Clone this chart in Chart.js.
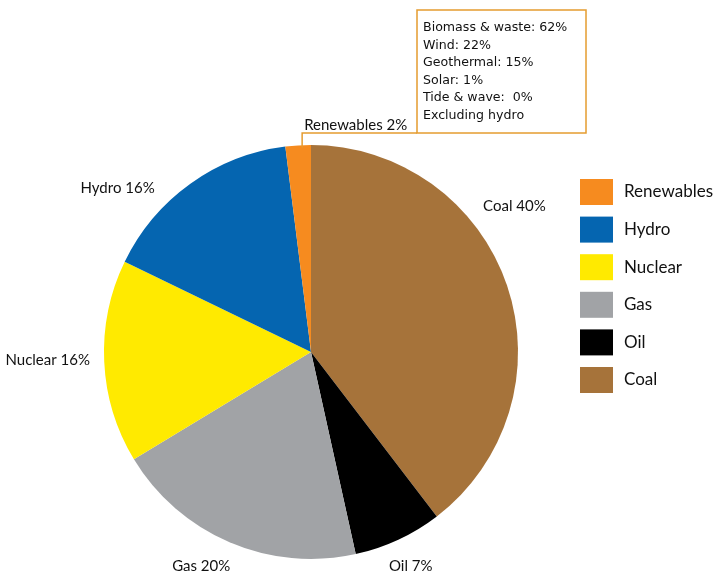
<!DOCTYPE html>
<html>
<head>
<meta charset="utf-8">
<script src="https://cdn.jsdelivr.net/npm/chart.js@4/dist/chart.umd.min.js"></script>
<style>
  body { margin: 0; background: #fff; }
</style>
</head>
<body>
<canvas id="myChart" width="717" height="576"></canvas>
<script>
// clockwise from 12 o'clock
const sources = ["Coal", "Oil", "Gas", "Nuclear", "Hydro", "Renewables"];
const shares = [40, 7, 20, 16, 16, 2];
const colors = ["#a6733a", "#000000", "#a1a3a6", "#ffea00", "#0565b0", "#f68b1f"];
const renewableMix = ["Biomass & waste: 62%", "Wind: 22%", "Geothermal: 15%", "Solar: 1%", "Tide & wave:  0%", "Excluding hydro"];

// outside labels + leader box + legend
const decorations = {
    id: "decorations",
    afterDraw(chart, args, opts) {
        const ctx = chart.ctx;
        const arcs = chart.getDatasetMeta(0).data;
        ctx.save();
        ctx.fillStyle = "#111";
        ctx.font = "15px Lato";
        ctx.textAlign = "center";
        ctx.textBaseline = "middle";
        arcs.forEach((arc, i) => {
            if (sources[i] === "Renewables") return;
            const text = sources[i] + " " + shares[i] + "%";
            const w = ctx.measureText(text).width;
            const a = (arc.startAngle + arc.endAngle) / 2 + (opts.shift[i] || 0) * Math.PI / 180;
            const s = Math.abs(Math.cos(a)), c = Math.abs(Math.sin(a));
            const d = arc.outerRadius + 14 + w / 2 * s + 7 * c;
            ctx.fillText(text, arc.x + d * Math.cos(a), arc.y + d * Math.sin(a));
        });

        // renewables callout
        const ri = sources.indexOf("Renewables");
        const ra = arcs[ri];
        const mid = (ra.startAngle + ra.endAngle) / 2;
        const lx = ra.x + ra.outerRadius * Math.cos(mid) + 4;
        const topY = ra.y + ra.outerRadius * Math.sin(mid);
        const bx = 417, by = 10, bw = 169, bh = 123;
        ctx.strokeStyle = "#e59c2f";
        ctx.lineWidth = 1.5;
        ctx.beginPath();
        ctx.moveTo(lx, topY + 2);
        ctx.lineTo(lx, by + bh);
        ctx.lineTo(bx, by + bh);
        ctx.stroke();
        ctx.strokeRect(bx, by, bw, bh);
        ctx.textAlign = "left";
        ctx.fillText(sources[ri] + " " + shares[ri] + "%", lx + 2, by + bh - 8);
        ctx.font = "12.6px 'DejaVu Sans'";
        renewableMix.forEach((t, k) => ctx.fillText(t, bx + 6, by + 18 + k * 17.5));

        // legend, reversed order
        ctx.font = "17px Lato";
        for (let k = 0; k < sources.length; k++) {
            const i = sources.length - 1 - k;
            const cy = 192 + k * 37.6;
            ctx.fillStyle = colors[i];
            ctx.fillRect(580, cy - 13, 33, 26);
            ctx.fillStyle = "#111";
            ctx.fillText(sources[i], 624, cy);
        }
        ctx.restore();
    }
};

new Chart(document.getElementById("myChart"), {
    type: "pie",
    data: {
        labels: sources,
        datasets: [{
            data: shares,
            backgroundColor: colors,
            borderWidth: 0,
        }]
    },
    options: {
        responsive: false,
        animation: false,
        layout: { padding: { left: 104, right: 199, top: 145, bottom: 17 } },
        plugins: {
            legend: { display: false },
            tooltip: { enabled: false },
            decorations: { shift: [-17, 0, 4, 1, -14] }
        }
    },
    plugins: [decorations]
});
</script>
</body>
</html>
